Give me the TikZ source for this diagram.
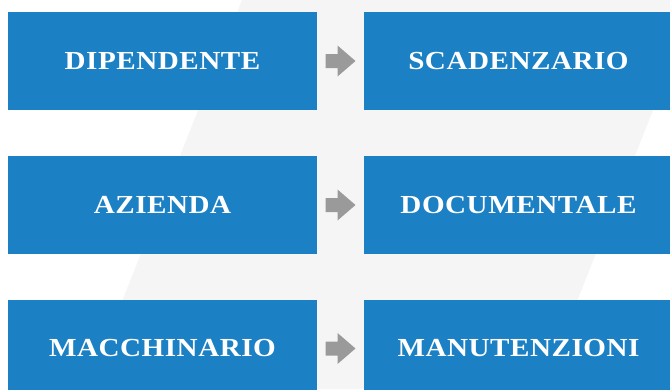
\documentclass[tikz,border=0pt]{standalone}
\usepackage{fontspec}
\setmainfont{Liberation Serif}
\usetikzlibrary{calc}
\definecolor{boxblue}{RGB}{27,128,196}
\definecolor{bggray}{RGB}{245,245,245}
\definecolor{arrowgray}{RGB}{154,154,154}
\tikzset{
  x=1pt, y=-1pt,
  bluebox/.style={fill=boxblue, draw=none, minimum width=309pt, minimum height=98pt,
    inner sep=0pt, text=white,
    font=\fontsize{26}{29}\selectfont\bfseries\addfontfeature{LetterSpace=2,FakeStretch=1.12}},
  grayarrow/.pic={\fill[arrowgray] (-15,-7) -- (-3,-7) -- (-3,-15.5) -- (15,0) -- (-3,15.5) -- (-3,7) -- (-15,7) -- cycle;}
}
\begin{document}
\begin{tikzpicture}
\useasboundingbox (0,0) rectangle (670,389);
\begin{scope}
\clip (0,0) rectangle (670,389);
\fill[bggray] (242,0) -- (697,0) -- (542,389) -- (87,389) -- cycle;
\node[bluebox] (l1) at (162.5,61) {DIPENDENTE};
\node[bluebox] (r1) at (518.5,61) {SCADENZARIO};
\node[bluebox] (l2) at (162.5,205) {AZIENDA};
\node[bluebox] (r2) at (518.5,205) {DOCUMENTALE};
\node[bluebox] (l3) at (162.5,348.5) {MACCHINARIO};
\node[bluebox] (r3) at (518.5,348.5) {MANUTENZIONI};
\end{scope}
\pic at ($(l1.east)!0.5!(r1.west)$) {grayarrow};
\pic at ($(l2.east)!0.5!(r2.west)$) {grayarrow};
\pic at ($(l3.east)!0.5!(r3.west)$) {grayarrow};
\end{tikzpicture}
\end{document}
